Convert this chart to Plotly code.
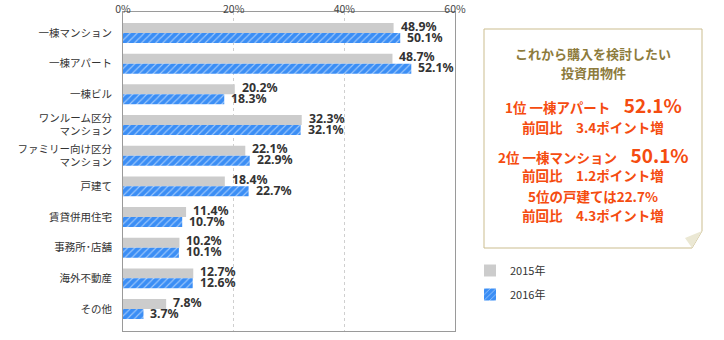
import plotly.graph_objects as go

# Investment property types (top to bottom)
categories = [
    "一棟マンション", "一棟アパート", "一棟ビル", "ワンルーム区分<br>マンション",
    "ファミリー向け区分<br>マンション", "戸建て", "賃貸併用住宅", "事務所･店舗",
    "海外不動産", "その他",
]
values_2015 = [48.9, 48.7, 20.2, 32.3, 22.1, 18.4, 11.4, 10.2, 12.7, 7.8]
values_2016 = [50.1, 52.1, 18.3, 32.1, 22.9, 22.7, 10.7, 10.1, 12.6, 3.7]
series_names = ["2015年", "2016年"]
x_tick_values = [0, 20, 40, 60]
x_tick_labels = ["0%", "20%", "40%", "60%"]

W, H = 724, 340
PL, PR, PT, PB = 123, 455, 12, 331  # plot area in pixels

GREY = "#cccccc"
BLUE = "#3b8ef5"
JP = "Noto Sans CJK JP"
LABEL_FONT = dict(family="Noto Sans, Noto Sans CJK JP", size=12.3, color="#333333",
                  weight="bold")

def fx(px):
    return (px - PL) / (PR - PL)

def fy(py):
    return (PB - py) / (PB - PT)

ypos = list(range(len(categories)))

fig = go.Figure()
fig.add_trace(go.Bar(
    y=ypos, x=values_2015, orientation="h", name=series_names[0],
    marker=dict(color=GREY, line=dict(width=0)),
    legendgroup="a", hoverinfo="skip",
))
fig.add_trace(go.Bar(
    y=ypos, x=values_2016, orientation="h", name=series_names[1],
    marker=dict(color=BLUE, line=dict(width=0),
                pattern=dict(shape="/", fillmode="overlay", fgcolor="#ffffff",
                             size=5, solidity=0.22)),
    legendgroup="b", hoverinfo="skip",
))

ann = []
# Value labels just past the end of each bar
for i, (v15, v16) in enumerate(zip(values_2015, values_2016)):
    for v, dy in ((v15, 7), (v16, -4)):
        ann.append(dict(x=v, y=i, xref="x", yref="y", text=f"{v:.1f}%",
                        showarrow=False, xanchor="left", yanchor="middle",
                        xshift=5, yshift=dy, font=LABEL_FONT))

# Summary box with folded corner
bx0, by0, bx1, by1 = 484, 29, 702, 248
fold_y, fold_x = 231, 692
path = (f"M {fx(bx0)},{fy(by0)} L {fx(bx1)},{fy(by0)} L {fx(bx1)},{fy(fold_y)} "
        f"L {fx(fold_x)},{fy(by1)} L {fx(bx0)},{fy(by1)} Z")
shapes = [
    dict(type="path", xref="paper", yref="paper", path=path,
         line=dict(color="#cbbd8f", width=1), fillcolor="#ffffff", layer="above"),
    dict(type="path", xref="paper", yref="paper",
         path=(f"M {fx(bx1)},{fy(fold_y)} L {fx(fold_x)},{fy(by1)} "
               f"L {fx(685)},{fy(238)} Z"),
         line=dict(width=0), fillcolor="#ebe8d4", layer="above"),
]

CX = fx(593)
TITLE_C = "#8d7b3c"
RED = "#f54c10"

def note(text, py, size, color, bold=True):
    ann.append(dict(text=text, x=CX, y=fy(py), xref="paper", yref="paper",
                    showarrow=False, xanchor="center", yanchor="middle",
                    font=dict(family=JP, size=size, color=color,
                              weight="bold" if bold else "normal")))

note("これから購入を検討したい", 53, 13, TITLE_C)
note("投資用物件", 72, 13, TITLE_C)
note("1位 一棟アパート　<span style='font-size:19px'>52.1%</span>", 105, 13.5, RED)
note("前回比　3.4ポイント増", 127, 13.5, RED)
note("2位 一棟マンション　<span style='font-size:19px'>50.1%</span>", 154, 13.5, RED)
note("前回比　1.2ポイント増", 175, 13.5, RED)
note("5位の戸建ては22.7%", 196, 13.5, RED)
note("前回比　4.3ポイント増", 215, 13.5, RED)

fig.update_layout(
    width=W, height=H,
    margin=dict(l=PL, r=W - PR, t=PT, b=H - PB, pad=0, autoexpand=False),
    paper_bgcolor="#ffffff", plot_bgcolor="#ffffff",
    barmode="group", bargap=0.35, bargroupgap=0,
    showlegend=True,
    legend=dict(x=fx(470), y=fy(256), xanchor="left", yanchor="top",
                font=dict(family=JP, size=11, color="#333333"),
                tracegroupgap=5, bgcolor="rgba(0,0,0,0)"),
    shapes=shapes, annotations=ann,
    font=dict(family=JP, size=11, color="#333333"),
)
fig.update_xaxes(
    side="top", range=[0, 60], tickmode="array", tickvals=x_tick_values,
    ticktext=x_tick_labels, automargin=False, ticklabelstandoff=-6,
    showgrid=True, gridcolor="#cfcfcf", griddash="dot", gridwidth=1,
    showline=True, linecolor="#9a9a9a", linewidth=1, mirror=True,
    zeroline=False, ticks="", tickfont=dict(family=JP, size=10.5, color="#444444"),
    fixedrange=True,
)
fig.update_yaxes(
    tickmode="array", tickvals=ypos, ticktext=categories, automargin=False,
    range=[9.717, -0.685], showgrid=False, zeroline=False,
    showline=True, linecolor="#9a9a9a", linewidth=1, mirror=True,
    ticks="outside", ticklen=8, tickcolor="rgba(0,0,0,0)",
    tickfont=dict(family=JP, size=10.5, color="#333333"), fixedrange=True,
)

fig.write_html("out.html")
